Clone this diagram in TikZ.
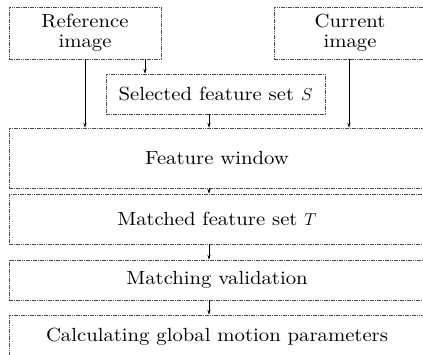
\documentclass[tikz,border=0pt]{standalone}
\usepackage{fontspec}
\newfontfamily\boxfont{lmroman10-regular.otf}[FakeStretch=1.09]
\usetikzlibrary{arrows.meta}
\begin{document}
\begin{tikzpicture}[x=1pt,y=-1pt,
  box/.style={draw=black!70,line width=0.5pt,dash pattern=on 1.6pt off 0.7pt,
    inner sep=0pt,align=center,
    font=\boxfont\fontsize{19}{20}\selectfont},
  arr/.style={-{Stealth[length=5pt,width=3.2pt]},line width=0.6pt}]
\useasboundingbox[fill=white] (0,0) rectangle (423,354);
\node[box,minimum width=152pt,minimum height=52pt] (ref) at (85,33) {Reference\\image};
\node[box,minimum width=152pt,minimum height=52pt] (cur) at (350,33) {Current\\image};
\node[box,minimum width=219pt,minimum height=40pt] (sel) at (215.5,94) {Selected feature set $S$};
\node[box,minimum width=416pt,minimum height=60pt] (win) at (217,158) {Feature window};
\node[box,minimum width=416pt,minimum height=50pt] (mat) at (217,219) {Matched feature set $T$};
\node[box,minimum width=416pt,minimum height=40pt] (val) at (217,280) {Matching validation};
\node[box,minimum width=416pt,minimum height=44pt] (calc) at (217,337) {Calculating global motion parameters};
% arrow columns
\coordinate (c1) at (145,0);
\coordinate (c2) at (209,0);
\coordinate (c3) at (349,0);
\draw[arr] (ref.south) -- (win.north -| ref.south);
\draw[arr] (ref.south -| c1) -- (sel.north -| c1);
\draw[arr] (sel.south -| c2) -- (win.north -| c2);
\draw[arr] (cur.south -| c3) -- (win.north -| c3);
\draw[arr] (win.south -| c2) -- (mat.north -| c2);
\draw[arr] (mat.south -| c2) -- (val.north -| c2);
\draw[arr] (val.south -| c2) -- (calc.north -| c2);
\end{tikzpicture}
\end{document}
